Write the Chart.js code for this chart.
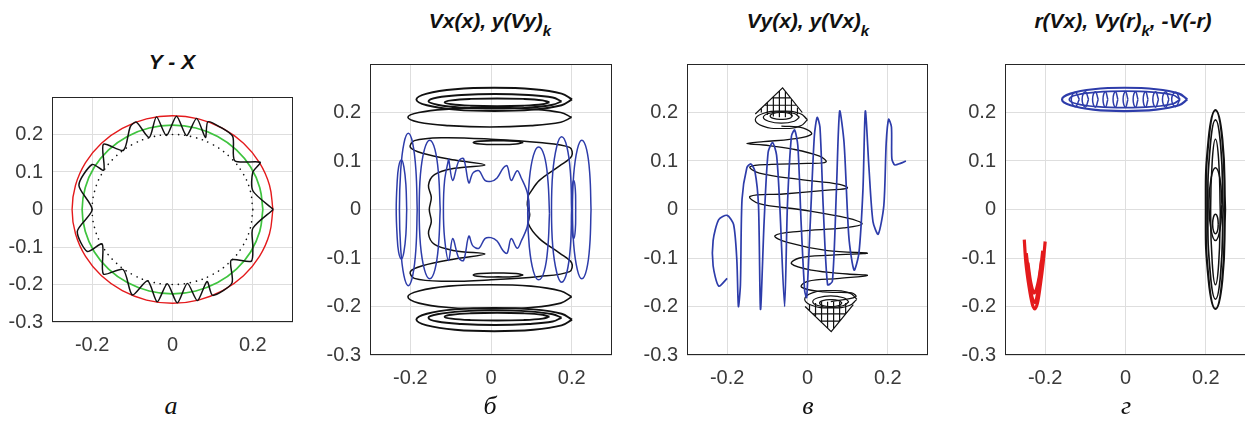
<!DOCTYPE html>
<html>
<head>
<meta charset="utf-8">
<script src="https://cdn.jsdelivr.net/npm/chart.js@4.4.0/dist/chart.umd.min.js"></script>
<style>
body{margin:0;background:#fff;width:1245px;height:428px;overflow:hidden;position:relative;font-family:"Liberation Sans",Arial,sans-serif}
canvas{position:absolute}
.ttl{position:absolute;font-weight:bold;font-style:italic;font-size:21px;line-height:22px;color:#111;white-space:nowrap;transform:translateX(-50%)}
.ttl sub{font-size:15px;vertical-align:-8px;line-height:0}
.lbl{position:absolute;font-family:"Liberation Serif",serif;font-style:italic;font-size:26px;line-height:26px;color:#111;transform:translateX(-50%)}
</style>
</head>
<body>
<div class="ttl" style="left:172px;top:51px">Y - X</div>
<div class="ttl" style="left:490px;top:10px">Vx(x), y(Vy)<sub>k</sub></div>
<div class="ttl" style="left:808px;top:10px">Vy(x), y(Vx)<sub>k</sub></div>
<div class="ttl" style="left:1123px;top:10px">r(Vx), Vy(r)<sub>k</sub>, -V(-r)</div>
<canvas id="pa"></canvas>
<canvas id="pb"></canvas>
<canvas id="pc"></canvas>
<canvas id="pd"></canvas>
<div class="lbl" style="left:171px;top:393px">а</div>
<div class="lbl" style="left:490px;top:393px">б</div>
<div class="lbl" style="left:808px;top:393px">в</div>
<div class="lbl" style="left:1126px;top:393px">г</div>
<script>
// tick labels
const xTicks=[-0.2,0,0.2];
const yTicks=[-0.3,-0.2,-0.1,0,0.1,0.2];

// --- а : Y - X
const aRed=[[0.25,0],[0.2415,0.0647],[0.2165,0.125],[0.1768,0.1768],[0.125,0.2165],[0.0647,0.2415],[0,0.25],[-0.0647,0.2415],[-0.125,0.2165],[-0.1768,0.1768],[-0.2165,0.125],[-0.2415,0.0647],[-0.25,0],[-0.2415,-0.0647],[-0.2165,-0.125],[-0.1768,-0.1768],[-0.125,-0.2165],[-0.0647,-0.2415],[0,-0.25],[0.0647,-0.2415],[0.125,-0.2165],[0.1768,-0.1768],[0.2165,-0.125],[0.2415,-0.0647],[0.25,0]];
const aGreen=[[0.225,0],[0.2173,0.0582],[0.1949,0.1125],[0.1591,0.1591],[0.1125,0.1949],[0.0582,0.2173],[0,0.225],[-0.0582,0.2173],[-0.1125,0.1949],[-0.1591,0.1591],[-0.1949,0.1125],[-0.2173,0.0582],[-0.225,0],[-0.2173,-0.0582],[-0.1949,-0.1125],[-0.1591,-0.1591],[-0.1125,-0.1949],[-0.0582,-0.2173],[0,-0.225],[0.0582,-0.2173],[0.1125,-0.1949],[0.1591,-0.1591],[0.1949,-0.1125],[0.2173,-0.0582],[0.225,0]];
const aDots=[[0.2,0],[0.1932,0.0518],[0.1732,0.1],[0.1414,0.1414],[0.1,0.1732],[0.0518,0.1932],[0,0.2],[-0.0518,0.1932],[-0.1,0.1732],[-0.1414,0.1414],[-0.1732,0.1],[-0.1932,0.0518],[-0.2,0],[-0.1932,-0.0518],[-0.1732,-0.1],[-0.1414,-0.1414],[-0.1,-0.1732],[-0.0518,-0.1932],[0,-0.2],[0.0518,-0.1932],[0.1,-0.1732],[0.1414,-0.1414],[0.1732,-0.1],[0.1932,-0.0518],[0.2,0]];
const aBlack=[[0.251,0],[0.2,0.05],[0.2,0.1],[0.218,0.126],[0.155,0.13],[0.15,0.195],[0.12,0.219],[0.088,0.234],[0.082,0.192],[0.06,0.243],[0.035,0.197],[0.01,0.249],[-0.015,0.197],[-0.04,0.247],[-0.058,0.192],[-0.09,0.233],[-0.105,0.221],[-0.122,0.158],[-0.172,0.174],[-0.171,0.105],[-0.2,0.12],[-0.233,0.065],[-0.2,0],[-0.237,-0.058],[-0.212,-0.112],[-0.175,-0.092],[-0.172,-0.172],[-0.123,-0.16],[-0.1,-0.228],[-0.062,-0.19],[-0.038,-0.246],[-0.013,-0.198],[0.012,-0.249],[0.037,-0.197],[0.062,-0.243],[0.086,-0.192],[0.1,-0.229],[0.148,-0.196],[0.146,-0.135],[0.196,-0.138],[0.2,-0.1],[0.2,-0.05],[0.251,0]];

// --- б : Vx(x), y(Vy)k
const bTop1=[[0.201,0.227],[0.175,0.239],[0.105,0.248],[0.008,0.251],[-0.089,0.248],[-0.159,0.239],[-0.185,0.227],[-0.159,0.215],[-0.089,0.206],[0.008,0.203],[0.105,0.206],[0.175,0.215],[0.201,0.227]];
const bTop2=[[0.175,0.223],[0.153,0.231],[0.093,0.236],[0.01,0.238],[-0.073,0.236],[-0.133,0.231],[-0.155,0.223],[-0.133,0.216],[-0.073,0.21],[0.01,0.208],[0.093,0.21],[0.153,0.216],[0.175,0.223]];
const bTop3=[[0.145,0.221],[0.128,0.225],[0.08,0.228],[0.015,0.229],[-0.05,0.228],[-0.098,0.225],[-0.115,0.221],[-0.098,0.217],[-0.05,0.214],[0.015,0.213],[0.08,0.214],[0.128,0.217],[0.145,0.221]];
const bTop4=[[0.2,0.19],[0.173,0.2],[0.099,0.207],[-0.003,0.21],[-0.105,0.207],[-0.179,0.2],[-0.206,0.19],[-0.179,0.18],[-0.105,0.173],[-0.003,0.17],[0.099,0.173],[0.173,0.18],[0.2,0.19]];
const bTop5=[[0.08,0.138],[0.062,0.141],[0.018,0.142],[-0.026,0.141],[-0.044,0.138],[-0.026,0.135],[0.018,0.134],[0.062,0.135],[0.08,0.138]];
const bBot1=[[0.201,-0.227],[0.175,-0.215],[0.105,-0.206],[0.008,-0.203],[-0.089,-0.206],[-0.159,-0.215],[-0.185,-0.227],[-0.159,-0.239],[-0.089,-0.248],[0.008,-0.251],[0.105,-0.248],[0.175,-0.239],[0.201,-0.227]];
const bBot2=[[0.175,-0.223],[0.153,-0.216],[0.093,-0.21],[0.01,-0.208],[-0.073,-0.21],[-0.133,-0.216],[-0.155,-0.223],[-0.133,-0.231],[-0.073,-0.236],[0.01,-0.238],[0.093,-0.236],[0.153,-0.231],[0.175,-0.223]];
const bBot3=[[0.145,-0.221],[0.128,-0.217],[0.08,-0.214],[0.015,-0.213],[-0.05,-0.214],[-0.098,-0.217],[-0.115,-0.221],[-0.098,-0.225],[-0.05,-0.228],[0.015,-0.229],[0.08,-0.228],[0.128,-0.225],[0.145,-0.221]];
const bBot4=[[0.2,-0.18],[0.173,-0.168],[0.099,-0.158],[-0.003,-0.155],[-0.105,-0.158],[-0.179,-0.168],[-0.206,-0.18],[-0.179,-0.193],[-0.105,-0.202],[-0.003,-0.205],[0.099,-0.202],[0.173,-0.193],[0.2,-0.18]];
const bBot5=[[0.08,-0.135],[0.062,-0.132],[0.018,-0.131],[-0.026,-0.132],[-0.044,-0.135],[-0.026,-0.138],[0.018,-0.139],[0.062,-0.138],[0.08,-0.135]];
const bMid=[[0.093,0.03],[0.12,0.06],[0.17,0.09],[0.2,0.11],[0.195,0.128],[0.12,0.138],[0,0.145],[-0.12,0.148],[-0.19,0.142],[-0.2,0.128],[-0.17,0.116],[-0.09,0.102],[-0.015,0.092],[-0.09,0.085],[-0.14,0.072],[-0.155,0.05],[-0.148,0.025],[-0.153,0],[-0.148,-0.025],[-0.155,-0.05],[-0.14,-0.072],[-0.09,-0.085],[-0.015,-0.092],[-0.09,-0.102],[-0.17,-0.116],[-0.2,-0.128],[-0.19,-0.142],[-0.12,-0.148],[0,-0.145],[0.12,-0.138],[0.195,-0.128],[0.2,-0.11],[0.17,-0.09],[0.12,-0.06],[0.093,-0.03],[0.096,-0.01],[0.09,0.01],[0.093,0.03]];
const bBlueL1=[[-0.209,0],[-0.211,0.051],[-0.216,0.088],[-0.222,0.102],[-0.229,0.088],[-0.233,0.051],[-0.235,0],[-0.233,-0.051],[-0.229,-0.088],[-0.222,-0.102],[-0.216,-0.088],[-0.211,-0.051],[-0.209,0]];
const bBlueL2=[[-0.183,0],[-0.186,0.079],[-0.194,0.136],[-0.205,0.157],[-0.216,0.136],[-0.224,0.079],[-0.227,0],[-0.224,-0.079],[-0.216,-0.136],[-0.205,-0.157],[-0.194,-0.136],[-0.186,-0.079],[-0.183,0]];
const bBlueL3=[[-0.126,0],[-0.13,0.072],[-0.139,0.124],[-0.152,0.143],[-0.165,0.124],[-0.175,0.072],[-0.178,0],[-0.175,-0.072],[-0.165,-0.124],[-0.152,-0.143],[-0.139,-0.124],[-0.13,-0.072],[-0.126,0]];
const bBlueR1=[[0.145,-0.008],[0.141,0.061],[0.132,0.111],[0.118,0.129],[0.105,0.111],[0.095,0.061],[0.091,-0.008],[0.095,-0.077],[0.105,-0.127],[0.118,-0.145],[0.132,-0.127],[0.141,-0.077],[0.145,-0.008]];
const bBlueR2=[[0.2,0],[0.197,0.075],[0.188,0.13],[0.175,0.15],[0.163,0.13],[0.153,0.075],[0.15,0],[0.153,-0.075],[0.163,-0.13],[0.175,-0.15],[0.188,-0.13],[0.197,-0.075],[0.2,0]];
const bBlueR3=[[0.248,0],[0.245,0.072],[0.237,0.124],[0.225,0.143],[0.214,0.124],[0.205,0.072],[0.202,0],[0.205,-0.072],[0.214,-0.124],[0.225,-0.143],[0.237,-0.124],[0.245,-0.072],[0.248,0]];
const bBlueR4=[[0.21,0],[0.209,0.042],[0.205,0.06],[0.201,0.042],[0.2,0],[0.201,-0.042],[0.205,-0.06],[0.209,-0.042],[0.21,0]];
const bBlueMid=[[-0.105,0.105],[-0.095,0.06],[-0.08,0.1],[-0.068,0.105],[-0.055,0.055],[-0.045,0.075],[-0.03,0.08],[-0.015,0.06],[0,0.058],[0.015,0.065],[0.03,0.085],[0.04,0.09],[0.05,0.06],[0.065,0.08],[0.075,0.065],[0.09,0.035],[0.095,0],[0.09,-0.035],[0.075,-0.065],[0.065,-0.08],[0.05,-0.06],[0.04,-0.09],[0.03,-0.085],[0.015,-0.065],[0,-0.058],[-0.015,-0.06],[-0.03,-0.08],[-0.045,-0.075],[-0.055,-0.055],[-0.068,-0.105],[-0.08,-0.1],[-0.095,-0.06],[-0.105,-0.105],[-0.115,-0.06],[-0.118,0],[-0.115,0.06],[-0.105,0.105]];

// --- в : Vy(x), y(Vx)k
const cBlue=[[-0.2,-0.142],[-0.221,-0.158],[-0.235,-0.116],[-0.235,-0.064],[-0.221,-0.021],[-0.2,-0.012],[-0.184,-0.031],[-0.176,-0.103],[-0.172,-0.2],[-0.167,-0.155],[-0.163,0.021],[-0.151,0.086],[-0.141,0.094],[-0.131,0.079],[-0.122,0.008],[-0.117,-0.206],[-0.108,-0.025],[-0.098,0.118],[-0.087,0.138],[-0.077,0.112],[-0.069,0.008],[-0.057,-0.2],[-0.05,0.008],[-0.04,0.151],[-0.032,0.164],[-0.024,0.131],[-0.016,-0.025],[-0.007,-0.168],[-0.002,-0.181],[0.007,-0.025],[0.017,0.151],[0.024,0.19],[0.031,0.17],[0.039,0.008],[0.05,-0.155],[0.062,-0.148],[0.072,0.04],[0.08,0.203],[0.091,0.138],[0.103,-0.057],[0.116,-0.125],[0.128,-0.09],[0.138,0.04],[0.144,0.203],[0.153,0.086],[0.163,-0.025],[0.176,-0.051],[0.19,0.008],[0.196,0.138],[0.202,0.186],[0.209,0.17],[0.21,0.105],[0.217,0.092],[0.231,0.095],[0.245,0.1]];
const cHelix=[[-0.065,0.172],[-0.01,0.168],[0.01,0.155],[-0.04,0.145],[-0.11,0.14],[-0.151,0.136],[-0.11,0.133],[-0.04,0.125],[0.03,0.11],[0.046,0.098],[0,0.095],[-0.09,0.093],[-0.143,0.088],[-0.12,0.075],[-0.02,0.062],[0.08,0.052],[0.099,0.044],[0.05,0.04],[-0.06,0.032],[-0.143,0.027],[-0.12,0.012],[-0.02,0],[0.1,-0.018],[0.136,-0.03],[0.09,-0.038],[-0.02,-0.045],[-0.081,-0.054],[-0.05,-0.068],[0.05,-0.085],[0.149,-0.09],[0.06,-0.094],[-0.02,-0.1],[-0.04,-0.112],[0.01,-0.125],[0.1,-0.133],[0.149,-0.136],[0.08,-0.142],[0,-0.148],[-0.015,-0.16],[0.04,-0.17],[0.11,-0.172],[0.12,-0.18],[0.058,-0.19]];
const cConeTop=[[-0.13,0.197],[-0.062,0.251],[-0.013,0.2],[-0.013,null],[-0.115,0.2],[-0.115,0.209],[-0.115,null],[-0.1,0.195],[-0.1,0.221],[-0.1,null],[-0.085,0.192],[-0.085,0.233],[-0.085,null],[-0.07,0.19],[-0.07,0.245],[-0.07,null],[-0.055,0.19],[-0.055,0.243],[-0.055,null],[-0.04,0.192],[-0.04,0.227],[-0.04,null],[-0.025,0.196],[-0.025,0.21],[-0.025,null],[-0.107,0.215],[-0.029,0.215],[-0.029,null],[-0.088,0.23],[-0.043,0.23]];
const cConeBot=[[-0.006,-0.2],[0.059,-0.252],[0.114,-0.196],[0.114,null],[0.005,-0.196],[0.005,-0.209],[0.005,null],[0.02,-0.193],[0.02,-0.221],[0.02,null],[0.035,-0.19],[0.035,-0.233],[0.035,null],[0.05,-0.19],[0.05,-0.245],[0.05,null],[0.065,-0.19],[0.065,-0.246],[0.065,null],[0.08,-0.19],[0.08,-0.231],[0.08,null],[0.095,-0.193],[0.095,-0.215],[0.095,null],[0.013,-0.215],[0.095,-0.215],[0.095,null],[0.032,-0.23],[0.08,-0.23]];
const cLoopTop1=[[0,0.185],[-0.019,0.198],[-0.065,0.203],[-0.111,0.198],[-0.13,0.185],[-0.111,0.172],[-0.065,0.167],[-0.019,0.172],[0,0.185]];
const cLoopTop2=[[-0.02,0.19],[-0.033,0.198],[-0.065,0.202],[-0.097,0.198],[-0.11,0.19],[-0.097,0.182],[-0.065,0.178],[-0.033,0.182],[-0.02,0.19]];
const cLoopTop3=[[-0.037,0.193],[-0.045,0.198],[-0.065,0.2],[-0.085,0.198],[-0.093,0.193],[-0.085,0.188],[-0.065,0.186],[-0.045,0.188],[-0.037,0.193]];
const cLoopBot1=[[0.123,-0.185],[0.104,-0.172],[0.058,-0.167],[0.012,-0.172],[-0.007,-0.185],[0.012,-0.198],[0.058,-0.203],[0.104,-0.198],[0.123,-0.185]];
const cLoopBot2=[[0.103,-0.19],[0.09,-0.182],[0.058,-0.178],[0.026,-0.182],[0.013,-0.19],[0.026,-0.198],[0.058,-0.202],[0.09,-0.198],[0.103,-0.19]];
const cLoopBot3=[[0.086,-0.193],[0.078,-0.188],[0.058,-0.186],[0.038,-0.188],[0.03,-0.193],[0.038,-0.198],[0.058,-0.2],[0.078,-0.198],[0.086,-0.193]];

// --- г : r(Vx), Vy(r)k, -V(-r)
const dBlue1=[[0.154,0.227],[0.133,0.239],[0.076,0.248],[-0.002,0.251],[-0.08,0.248],[-0.137,0.239],[-0.158,0.227],[-0.137,0.215],[-0.08,0.206],[-0.002,0.203],[0.076,0.206],[0.133,0.215],[0.154,0.227]];
const dBlue2=[[0.136,0.227],[0.118,0.236],[0.067,0.242],[-0.002,0.244],[-0.071,0.242],[-0.122,0.236],[-0.14,0.227],[-0.122,0.218],[-0.071,0.212],[-0.002,0.21],[0.067,0.212],[0.118,0.218],[0.136,0.227]];
const dBlueRings=[[-0.115,0.227],[-0.125,0.242],[-0.135,0.227],[-0.125,0.212],[-0.115,0.227],[-0.115,null],[-0.092,0.227],[-0.1,0.243],[-0.108,0.227],[-0.1,0.211],[-0.092,0.227],[-0.092,null],[-0.068,0.227],[-0.075,0.243],[-0.082,0.227],[-0.075,0.211],[-0.068,0.227],[-0.068,null],[-0.044,0.227],[-0.05,0.243],[-0.056,0.227],[-0.05,0.211],[-0.044,0.227],[-0.044,null],[-0.019,0.227],[-0.025,0.243],[-0.031,0.227],[-0.025,0.211],[-0.019,0.227],[-0.019,null],[0.006,0.227],[0,0.243],[-0.006,0.227],[0,0.211],[0.006,0.227],[0.006,null],[0.031,0.227],[0.025,0.243],[0.019,0.227],[0.025,0.211],[0.031,0.227],[0.031,null],[0.056,0.227],[0.05,0.243],[0.044,0.227],[0.05,0.211],[0.056,0.227],[0.056,null],[0.082,0.227],[0.075,0.243],[0.068,0.227],[0.075,0.211],[0.082,0.227],[0.082,null],[0.108,0.227],[0.1,0.243],[0.092,0.227],[0.1,0.211],[0.108,0.227],[0.108,null],[0.135,0.227],[0.125,0.242],[0.115,0.227],[0.125,0.212],[0.135,0.227]];
const dBlack1=[[0.248,0],[0.241,0.145],[0.224,0.205],[0.207,0.145],[0.2,0],[0.207,-0.145],[0.224,-0.205],[0.241,-0.145],[0.248,0]];
const dBlack2=[[0.243,0],[0.237,0.131],[0.224,0.185],[0.211,0.131],[0.205,0],[0.211,-0.131],[0.224,-0.185],[0.237,-0.131],[0.243,0]];
const dBlack3=[[0.236,-0.005],[0.232,0.101],[0.224,0.145],[0.216,0.101],[0.212,-0.005],[0.216,-0.111],[0.224,-0.155],[0.232,-0.111],[0.236,-0.005]];
const dBlack4=[[0.24,0.011],[0.235,0.064],[0.224,0.086],[0.213,0.064],[0.208,0.011],[0.213,-0.042],[0.224,-0.064],[0.235,-0.042],[0.24,0.011]];
const dBlack5=[[0.231,-0.03],[0.229,-0.016],[0.224,-0.01],[0.219,-0.016],[0.217,-0.03],[0.219,-0.044],[0.224,-0.05],[0.229,-0.044],[0.231,-0.03]];
const dRed1=[[-0.252,-0.062],[-0.248,-0.11],[-0.24,-0.16],[-0.232,-0.195],[-0.226,-0.205],[-0.219,-0.192],[-0.212,-0.155],[-0.205,-0.11],[-0.2,-0.066]];
const dRed2=[[-0.247,-0.09],[-0.24,-0.14],[-0.233,-0.18],[-0.226,-0.192],[-0.22,-0.178],[-0.213,-0.135],[-0.206,-0.085]];
const dRed3=[[-0.243,-0.11],[-0.236,-0.15],[-0.228,-0.172],[-0.222,-0.165],[-0.215,-0.14],[-0.209,-0.105]];

const BLUE='#2d3caa', BLACK='#111111', RED='#e41a1c', GREEN='#3ec33e';

function ln(data,color,width,tension,dash){
    return {data:data,borderColor:color,borderWidth:width,tension:tension,borderDash:dash||[],
        borderCapStyle:dash?'round':'butt',fill:false,pointRadius:0,spanGaps:false};
}

const boxFrame={id:'boxFrame',afterDatasetsDraw(chart){
    const a=chart.chartArea,c=chart.ctx;
    c.save();
    c.strokeStyle='#262626';
    c.lineWidth=1;
    c.strokeRect(Math.round(a.left)+0.5,Math.round(a.top)+0.5,Math.round(a.right-a.left)-1,Math.round(a.bottom-a.top)-1);
    c.restore();
}};

function panel(id,bx,by,bw,bh,sets){
    const cv=document.getElementById(id);
    cv.width=bw+64; cv.height=bh+44;
    cv.style.left=(bx-60)+'px'; cv.style.top=(by-4)+'px';
    const tickFont={family:'Liberation Sans',size:20};
    return new Chart(cv,{
        type:'line',
        data:{datasets:sets},
        options:{
            responsive:false,animation:false,devicePixelRatio:1,
            layout:{padding:{top:4,right:4,left:0,bottom:0}},
            plugins:{legend:{display:false},tooltip:{enabled:false}},
            scales:{
                x:{type:'linear',min:-0.3,max:0.3,
                    afterBuildTicks:s=>{s.ticks=xTicks.map(v=>({value:v}));},
                    afterFit:s=>{s.height=40;},
                    grid:{color:'#dedede',drawTicks:false},border:{display:false},
                    ticks:{padding:11,color:'#3a3a3a',font:tickFont,autoSkip:false,maxRotation:0,callback:v=>String(v)}},
                y:{type:'linear',min:-0.3,max:0.3,
                    afterBuildTicks:s=>{s.ticks=yTicks.map(v=>({value:v}));},
                    afterFit:s=>{s.width=60;},
                    grid:{color:'#dedede',drawTicks:false},border:{display:false},
                    ticks:{padding:9,color:'#3a3a3a',font:tickFont,autoSkip:false,callback:v=>String(v)}}
            }
        },
        plugins:[boxFrame]
    });
}

panel('pa',52,80,241,242,[
    ln(aBlack,BLACK,1.5,0.25),
    ln(aRed,RED,1.4,0.4),
    ln(aGreen,GREEN,1.7,0.4),
    ln(aDots,BLACK,1.6,0.4,[0.1,6])
]);

panel('pb',370,47,242,308,[
    ln(bBlueL1,BLUE,1.5,0.4),ln(bBlueL2,BLUE,1.5,0.4),ln(bBlueL3,BLUE,1.5,0.4),
    ln(bBlueR1,BLUE,1.5,0.4),ln(bBlueR2,BLUE,1.5,0.4),ln(bBlueR3,BLUE,1.5,0.4),ln(bBlueR4,BLUE,1.5,0.5),
    ln(bBlueMid,BLUE,1.5,0.35),
    ln(bMid,BLACK,1.5,0.35),
    ln(bTop1,BLACK,1.9,0.4),ln(bTop2,BLACK,1.9,0.4),ln(bTop3,BLACK,1.9,0.4),ln(bTop4,BLACK,1.6,0.4),ln(bTop5,BLACK,1.6,0.5),
    ln(bBot1,BLACK,1.9,0.4),ln(bBot2,BLACK,1.9,0.4),ln(bBot3,BLACK,1.9,0.4),ln(bBot4,BLACK,1.6,0.4),ln(bBot5,BLACK,1.6,0.5)
]);

panel('pc',687,47,241,308,[
    ln(cBlue,BLUE,1.7,0.25),
    ln(cHelix,BLACK,1.3,0.4),
    ln(cConeTop,BLACK,1.2,0),ln(cConeBot,BLACK,1.2,0),
    ln(cLoopTop1,BLACK,1.2,0.5),ln(cLoopTop2,BLACK,1.2,0.5),ln(cLoopTop3,BLACK,1.2,0.5),
    ln(cLoopBot1,BLACK,1.2,0.5),ln(cLoopBot2,BLACK,1.2,0.5),ln(cLoopBot3,BLACK,1.2,0.5)
]);

panel('pd',1005,47,241,308,[
    ln(dBlue1,BLUE,2.2,0.4),ln(dBlue2,BLUE,1.7,0.4),ln(dBlueRings,BLUE,1.5,0.5),
    ln(dBlack1,BLACK,2.2,0.5),ln(dBlack2,BLACK,1.7,0.5),ln(dBlack3,BLACK,1.5,0.5),ln(dBlack4,BLACK,1.5,0.5),ln(dBlack5,BLACK,1.5,0.5),
    ln(dRed1,RED,3.2,0.3),ln(dRed2,RED,3.2,0.3),ln(dRed3,RED,3.2,0.3)
]);
</script>
</body>
</html>
